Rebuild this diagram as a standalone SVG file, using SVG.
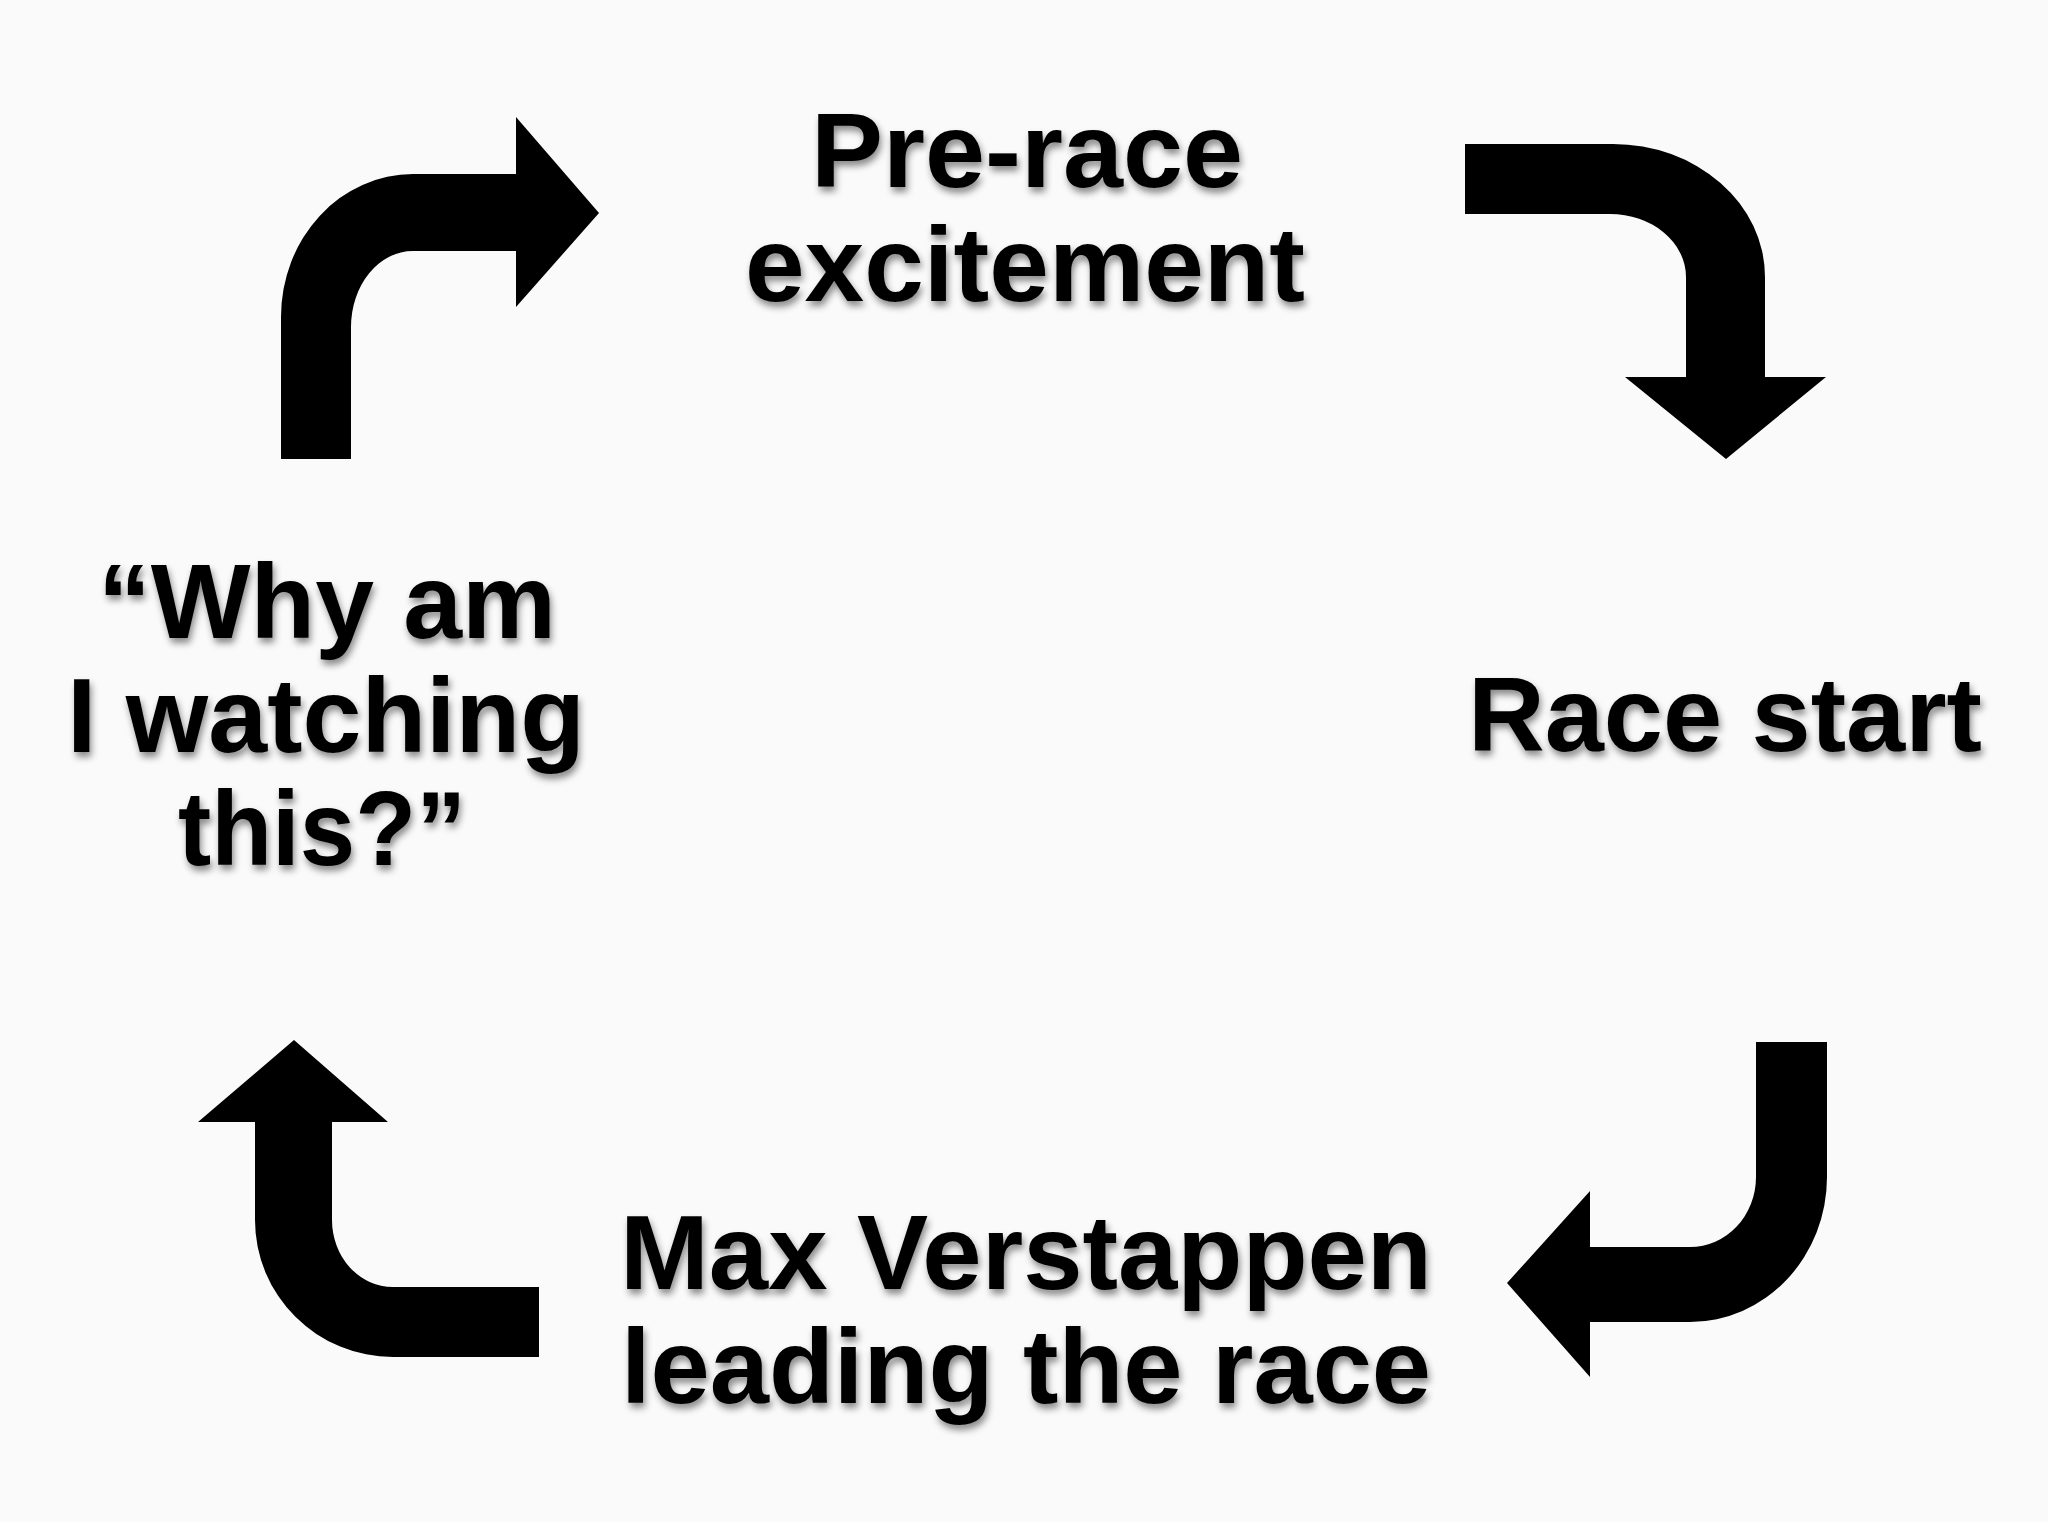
<svg xmlns="http://www.w3.org/2000/svg" width="2048" height="1522" viewBox="0 0 2048 1522">
  <style>
    .lbl { font-family: "Liberation Sans", Arial, Helvetica, sans-serif; font-weight: bold; font-size: 105px; fill: #000; text-anchor: middle; }
    .arrow { fill: #000; stroke: none; }
  </style>
  <defs>
    <filter id="shadow" x="-10%" y="-20%" width="120%" height="150%">
      <feDropShadow dx="2" dy="5" stdDeviation="3.5" flood-color="#000" flood-opacity="0.45"/>
    </filter>
  </defs>
  <rect x="0" y="0" width="2048" height="1522" fill="#fafafa"/>

  <g id="connectors">
    <path id="arrow-why-to-prerace" class="arrow" d="M281,459 L281,317 A132,143 0 0 1 413,174 L516,174 L516,117 L599,213 L516,307 L516,251 L413,251 A62,76 0 0 0 351,327 L351,459 Z"/>
    <path id="arrow-prerace-to-start" class="arrow" d="M1465,144 L1613,144 A152,133 0 0 1 1765,277 L1765,377 L1826,377 L1726,459 L1625,377 L1686,377 L1686,277 A76,63 0 0 0 1610,214 L1465,214 Z"/>
    <path id="arrow-start-to-max" class="arrow" d="M1756,1042 L1827,1042 L1827,1177 A137,145 0 0 1 1690,1322 L1590,1322 L1590,1377 L1507,1283 L1590,1191 L1590,1247 L1690,1247 A66,70 0 0 0 1756,1177 Z"/>
    <path id="arrow-max-to-why" class="arrow" d="M294,1040 L388,1122 L332,1122 L332,1220 A61,67 0 0 0 393,1287 L539,1287 L539,1357 L393,1357 A138,137 0 0 1 255,1220 L255,1122 L198,1122 Z"/>
  </g>

  <g id="node-prerace" filter="url(#shadow)">
    <text class="lbl" x="1027" y="187" textLength="432" lengthAdjust="spacingAndGlyphs">Pre-race</text>
    <text class="lbl" x="1025" y="301" textLength="560" lengthAdjust="spacingAndGlyphs">excitement</text>
  </g>

  <g id="node-race-start" filter="url(#shadow)">
    <text class="lbl" x="1725" y="751" textLength="514" lengthAdjust="spacingAndGlyphs">Race start</text>
  </g>

  <g id="node-max" filter="url(#shadow)">
    <text class="lbl" x="1026" y="1289" textLength="812" lengthAdjust="spacingAndGlyphs">Max Verstappen</text>
    <text class="lbl" x="1026" y="1403" textLength="810" lengthAdjust="spacingAndGlyphs">leading the race</text>
  </g>

  <g id="node-why" filter="url(#shadow)">
    <text class="lbl" x="327" y="638" textLength="458" lengthAdjust="spacingAndGlyphs">“Why am</text>
    <text class="lbl" x="326" y="752" textLength="518" lengthAdjust="spacingAndGlyphs">I watching</text>
    <text class="lbl" x="322" y="865" textLength="288" lengthAdjust="spacingAndGlyphs">this?”</text>
  </g>
</svg>
